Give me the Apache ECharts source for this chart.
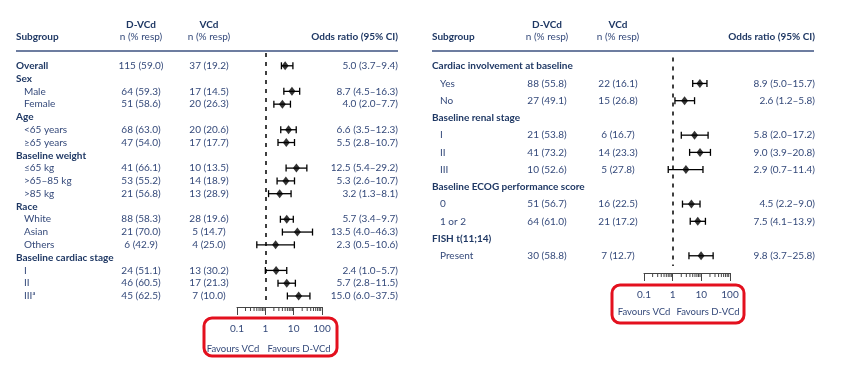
<!DOCTYPE html>
<html>
<head>
<meta charset="utf-8">
<script src="https://cdn.jsdelivr.net/npm/echarts@6/dist/echarts.min.js"></script>
<style>
  html, body { margin: 0; background: #fff; }
  #chart { width: 850px; height: 376px; }
</style>
</head>
<body>
<div id="chart"></div>
<script>
// ---- left panel data ----
var leftLabels = ['Overall', 'Sex', 'Male', 'Female', 'Age', '<65 years', '\u226565 years',
  'Baseline weight', '\u226465 kg', '>65\u201385 kg', '>85 kg', 'Race', 'White', 'Asian', 'Others',
  'Baseline cardiac stage', 'I', 'II', 'III\u1d43'];
var leftBold = [1, 1, 0, 0, 1, 0, 0, 1, 0, 0, 0, 1, 0, 0, 0, 1, 0, 0, 0];
var leftDVCd = ['115 (59.0)', '', '64 (59.3)', '51 (58.6)', '', '68 (63.0)', '47 (54.0)', '',
  '41 (66.1)', '53 (55.2)', '21 (56.8)', '', '88 (58.3)', '21 (70.0)', '6 (42.9)', '',
  '24 (51.1)', '46 (60.5)', '45 (62.5)'];
var leftVCd = ['37 (19.2)', '', '17 (14.5)', '20 (26.3)', '', '20 (20.6)', '17 (17.7)', '',
  '10 (13.5)', '14 (18.9)', '13 (28.9)', '', '28 (19.6)', '5 (14.7)', '4 (25.0)', '',
  '13 (30.2)', '17 (21.3)', '7 (10.0)'];
var leftEst = [5.0, null, 8.7, 4.0, null, 6.6, 5.5, null, 12.5, 5.3, 3.2, null, 5.7, 13.5, 2.3, null, 2.4, 5.7, 15.0];
var leftLo  = [3.7, null, 4.5, 2.0, null, 3.5, 2.8, null, 5.4, 2.6, 1.3, null, 3.4, 4.0, 0.5, null, 1.0, 2.8, 6.0];
var leftHi  = [9.4, null, 16.3, 7.7, null, 12.3, 10.7, null, 29.2, 10.7, 8.1, null, 9.7, 46.3, 10.6, null, 5.7, 11.5, 37.5];

// ---- right panel data ----
var rightLabels = ['Cardiac involvement at baseline', 'Yes', 'No', 'Baseline renal stage', 'I', 'II', 'III',
  'Baseline ECOG performance score', '0', '1 or 2', 'FISH t(11;14)', 'Present'];
var rightBold = [1, 0, 0, 1, 0, 0, 0, 1, 0, 0, 1, 0];
var rightDVCd = ['', '88 (55.8)', '27 (49.1)', '', '21 (53.8)', '41 (73.2)', '10 (52.6)', '',
  '51 (56.7)', '64 (61.0)', '', '30 (58.8)'];
var rightVCd = ['', '22 (16.1)', '15 (26.8)', '', '6 (16.7)', '14 (23.3)', '5 (27.8)', '',
  '16 (22.5)', '21 (17.2)', '', '7 (12.7)'];
var rightEst = [null, 8.9, 2.6, null, 5.8, 9.0, 2.9, null, 4.5, 7.5, null, 9.8];
var rightLo  = [null, 5.0, 1.2, null, 2.0, 3.9, 0.7, null, 2.2, 4.1, null, 3.7];
var rightHi  = [null, 15.7, 5.8, null, 17.2, 20.8, 11.4, null, 9.0, 13.9, null, 25.8];

// axis
var xTicks = [0.1, 1, 10, 100];
var minorTicks = [0.2, 0.3, 0.4, 0.5, 0.6, 0.7, 0.8, 0.9, 2, 3, 4, 5, 6, 7, 8, 9, 20, 30, 40, 50, 60, 70, 80, 90];

var FONT = 'Lato, "Liberation Sans", sans-serif';
var navy = '#1f3864';
var txt = '#34497a';

function orText(est, lo, hi) {
  return est.map(function(e, i) {
    if (e == null) return '';
    return e.toFixed(1) + ' (' + lo[i].toFixed(1) + '\u2013' + hi[i].toFixed(1) + ')';
  });
}

function rowAxis(gi, pos, yMax, texts, margin, align, rich) {
  return {
    type: 'value', gridIndex: gi, position: pos, inverse: true,
    min: -1, max: yMax, interval: 1,
    axisLine: { show: false }, axisTick: { show: false }, splitLine: { show: false },
    axisLabel: {
      margin: margin, align: align, color: txt, fontFamily: FONT, fontSize: 10,
      rich: rich,
      formatter: function(v) {
        return (Number.isInteger(v) && v >= 0 && v < texts.length) ? texts[v] : '';
      }
    }
  };
}

function labelTexts(labels, bold) {
  return labels.map(function(l, i) { return bold[i] ? '{b|' + l + '}' : '{n|' + l + '}'; });
}

var richSub = {
  b: { fontWeight: 'bold', color: navy, fontFamily: FONT, fontSize: 10 },
  n: { color: txt, fontFamily: FONT, fontSize: 10, padding: [0, 0, 0, 8] }
};

function ciItem(params, api) {
  var y = api.value(2);
  var a = api.coord([api.value(0), y]);
  var b = api.coord([api.value(1), y]);
  var h = 3.5;
  var st = { stroke: '#000', lineWidth: 1.3 };
  return {
    type: 'group', children: [
      { type: 'line', shape: { x1: a[0], y1: a[1], x2: b[0], y2: b[1] }, style: st },
      { type: 'line', shape: { x1: a[0], y1: a[1] - h, x2: a[0], y2: a[1] + h }, style: st },
      { type: 'line', shape: { x1: b[0], y1: b[1] - h, x2: b[0], y2: b[1] + h }, style: st }
    ]
  };
}

// log-spaced minor ticks hanging under the axis line
function minorItem(params, api) {
  var x = api.coord([api.value(0), 0])[0];
  var y0 = params.coordSys.y + params.coordSys.height;
  return { type: 'line', shape: { x1: x, y1: y0, x2: x, y2: y0 + 4 }, style: { stroke: '#444', lineWidth: 1 } };
}

function panel(p) {
  var gi = p.gi, yi = gi * 4;
  var yMax = p.yMax;
  var ciData = [], ptData = [];
  p.est.forEach(function(e, i) {
    if (e == null) return;
    ciData.push([p.lo[i], p.hi[i], i]);
    ptData.push([e, i]);
  });
  return {
    grid: { left: p.left, right: 850 - p.right, top: p.top, bottom: 376 - p.bottom },
    xAxis: {
      type: 'log', logBase: 10, gridIndex: gi, min: 0.1, max: 100,
      axisLine: { onZero: false, lineStyle: { color: '#444', width: 1 } },
      axisTick: { length: 8, lineStyle: { color: '#444' } },
      splitLine: { show: false },
      axisLabel: {
        margin: 17, color: txt, fontFamily: FONT, fontSize: 10,
        formatter: function(v) {
          var hit = xTicks.filter(function(t) { return Math.abs(t - v) < 1e-9; });
          return hit.length ? String(hit[0]) : '';
        }
      }
    },
    yAxis: [
      rowAxis(gi, 'left', yMax, labelTexts(p.labels, p.bold), p.left - p.subX, 'left', richSub),
      rowAxis(gi, 'left', yMax, p.dvcd, p.left - p.dvcdX, 'center'),
      rowAxis(gi, 'left', yMax, p.vcd, p.left - p.vcdX, 'center'),
      rowAxis(gi, 'right', yMax, orText(p.est, p.lo, p.hi), p.orX - p.right, 'right')
    ],
    series: [
      {
        type: 'custom', xAxisIndex: gi, yAxisIndex: yi, renderItem: ciItem, clip: false,
        encode: { x: [0, 1], y: 2 }, data: ciData, silent: true, z: 3
      },
      {
        type: 'scatter', xAxisIndex: gi, yAxisIndex: yi, data: ptData, symbol: 'diamond',
        symbolSize: [7, 9], itemStyle: { color: '#000' }, silent: true, z: 4,
        markLine: {
          silent: true, symbol: 'none', label: { show: false },
          lineStyle: { color: '#000', type: [4, 5], width: 1.5 },
          data: [[{ coord: [1, p.dashFrom] }, { coord: [1, p.dashTo] }]]
        }
      },
      {
        type: 'custom', xAxisIndex: gi, yAxisIndex: yi, renderItem: minorItem, clip: false,
        encode: { x: 0, y: 1 }, data: minorTicks.map(function(v) { return [v, 0]; }), silent: true
      }
    ]
  };
}

var L = panel({ gi: 0, labels: leftLabels, bold: leftBold, dvcd: leftDVCd, vcd: leftVCd,
  est: leftEst, lo: leftLo, hi: leftHi, left: 237, right: 322, top: 53, bottom: 307, yMax: 18.86,
  subX: 16, dvcdX: 141, vcdX: 209, orX: 398, dashFrom: -1, dashTo: 18.4 });
var R = panel({ gi: 1, labels: rightLabels, bold: rightBold, dvcd: rightDVCd, vcd: rightVCd,
  est: rightEst, lo: rightLo, hi: rightHi, left: 644, right: 730, top: 49, bottom: 273, yMax: 12,
  subX: 432, dvcdX: 547, vcdX: 618, orX: 815, dashFrom: -0.5, dashTo: 11.6 });

function txtEl(text, x, y, align, bold, size) {
  return { type: 'text', x: x, y: y, silent: true, style: {
    text: text, fill: bold ? navy : txt, fontFamily: FONT, fontSize: size || 10,
    fontWeight: bold ? 'bold' : 'normal', align: align, verticalAlign: 'middle' } };
}

function headers(subX, dX, vX, orX, ruleR) {
  return [
    txtEl('Subgroup', subX, 37, 'left', true),
    txtEl('D-VCd', dX, 25, 'center', true),
    txtEl('n (% resp)', dX, 37, 'center', false),
    txtEl('VCd', vX, 25, 'center', true),
    txtEl('n (% resp)', vX, 37, 'center', false),
    txtEl('Odds ratio (95% CI)', orX, 37, 'right', true),
    { type: 'line', silent: true, shape: { x1: subX, y1: 51, x2: ruleR, y2: 51 },
      style: { stroke: '#3d5280', lineWidth: 1.5 } }
  ];
}

var graphics = []
  .concat(headers(16, 141, 209, 398, 398))
  .concat(headers(432, 547, 618, 815, 814))
  .concat([
    txtEl('Favours VCd', 233, 349, 'center', false, 9.5),
    txtEl('Favours D-VCd', 299, 349, 'center', false, 9.5),
    txtEl('Favours VCd', 644, 312, 'center', false, 9.5),
    txtEl('Favours D-VCd', 708, 312, 'center', false, 9.5),
    { type: 'rect', silent: true, shape: { x: 204, y: 318, width: 133, height: 38, r: 8 },
      style: { fill: 'none', stroke: '#e3101e', lineWidth: 3 } },
    { type: 'rect', silent: true, shape: { x: 612, y: 285, width: 132, height: 38, r: 8 },
      style: { fill: 'none', stroke: '#e3101e', lineWidth: 3 } }
  ]);

var chart = echarts.init(document.getElementById('chart'), null, { renderer: 'canvas' });
chart.setOption({
  animation: false,
  backgroundColor: '#fff',
  grid: [L.grid, R.grid],
  xAxis: [L.xAxis, R.xAxis],
  yAxis: L.yAxis.concat(R.yAxis),
  series: L.series.concat(R.series.map(function(s) { s.yAxisIndex = 4; return s; })),
  graphic: graphics
});
</script>
</body>
</html>
